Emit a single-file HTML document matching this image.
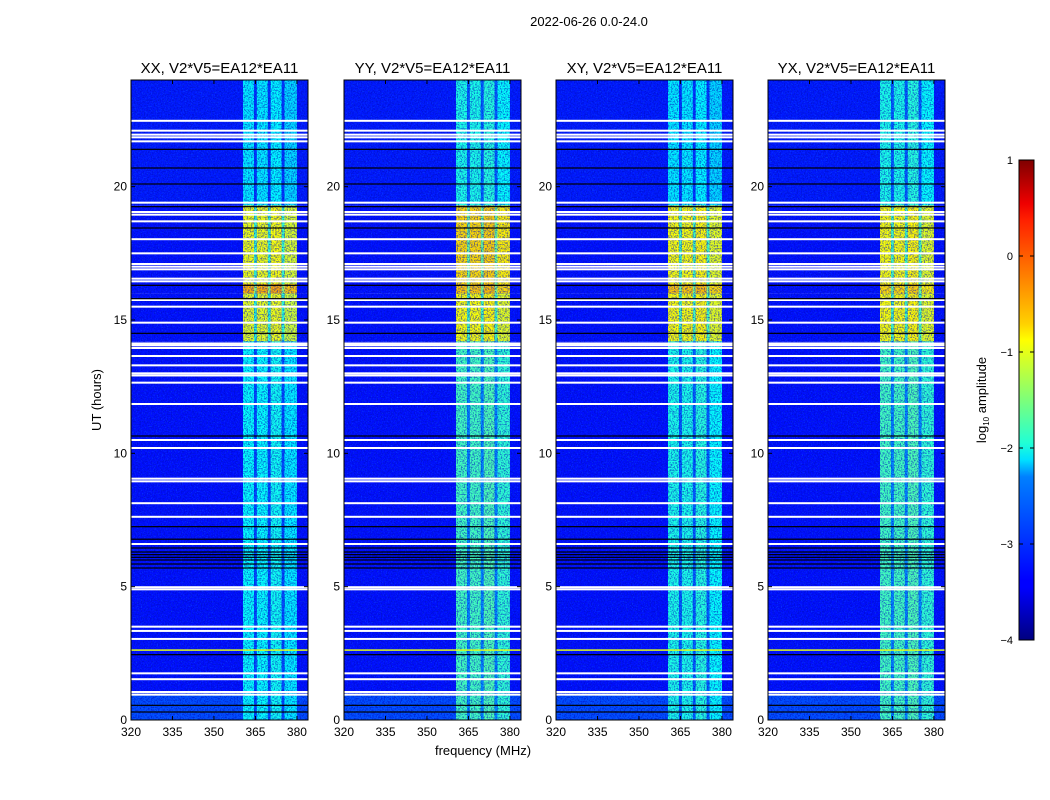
<!DOCTYPE html>
<html><head><meta charset="utf-8"><style>
html,body{margin:0;padding:0;background:#fff;}
svg{display:block;font-family:"Liberation Sans",sans-serif;}
</style></head><body>
<svg id="fig" width="1050" height="800" viewBox="0 0 1050 800">
<defs>
<filter id="speck" x="0" y="0" width="100%" height="100%" color-interpolation-filters="sRGB">
<feTurbulence type="fractalNoise" baseFrequency="0.7" numOctaves="2" seed="3"/>
<feColorMatrix type="matrix" values="0 0 0 0 0  0 0 0 0 0.05  0 0 0 0 0.75  5 0 0 0 -2.3"/>
</filter>
<filter id="speck2" x="0" y="0" width="100%" height="100%" color-interpolation-filters="sRGB">
<feTurbulence type="fractalNoise" baseFrequency="0.8" numOctaves="2" seed="11"/>
<feColorMatrix type="matrix" values="0 0 0 0 0.1  0 0 0 0 0.6  0 0 0 0 1  0 5 0 0 -2.9"/>
</filter>
<linearGradient id="jet" x1="0" y1="1" x2="0" y2="0">
<stop offset="0" stop-color="#00007f"/><stop offset="0.11" stop-color="#0000ff"/>
<stop offset="0.125" stop-color="#0000ff"/><stop offset="0.34" stop-color="#0080ff"/>
<stop offset="0.375" stop-color="#00e0ff"/><stop offset="0.41" stop-color="#20ffd6"/>
<stop offset="0.5" stop-color="#7dff7a"/><stop offset="0.625" stop-color="#ffff00"/>
<stop offset="0.66" stop-color="#ffd000"/><stop offset="0.875" stop-color="#ff2000"/>
<stop offset="0.91" stop-color="#ee0000"/><stop offset="1" stop-color="#7f0000"/>
</linearGradient>
</defs>
<text x="589" y="26" font-size="13" text-anchor="middle">2022-06-26 0.0-24.0</text>
<g id="panels"></g>
<text transform="translate(101,400) rotate(-90)" font-size="13" text-anchor="middle">UT (hours)</text>
<text x="483" y="755" font-size="13" text-anchor="middle">frequency (MHz)</text>
<g>
<rect x="1019" y="160" width="15" height="480" fill="url(#jet)" stroke="#000" stroke-width="1"/>
<g id="cbticks"></g>
<text transform="translate(986,400) rotate(-90)" font-size="13" text-anchor="middle">log<tspan font-size="8" dy="3">10</tspan><tspan dy="-3"> amplitude</tspan></text>
</g>
</svg>
<script>
// ---- data ----
const panelTitles = ["XX, V2*V5=EA12*EA11","YY, V2*V5=EA12*EA11","XY, V2*V5=EA12*EA11","YX, V2*V5=EA12*EA11"];
const panelLeft = [131, 344, 556, 768];
const xTicks = [320, 335, 350, 365, 380];
const yTicks = [0, 5, 10, 15, 20];
const cbTicks = [1, 0, -1, -2, -3, -4];
// time segments (hours)
const segStart = [0, 1, 14.2, 16.0, 16.35, 19.3];
const segEnd   = [1, 14.2, 16.0, 16.35, 19.3, 24];
const segBg    = [-3.0, -3.3, -3.3, -3.3, -3.3, -3.25];
const bandXX = [-2.1, -2.1, -1.0, -0.5, -0.95, -2.2];
const bandYY = [-1.8, -1.8, -0.9, -0.6, -0.7, -2.0];
const bandXY = [-2.0, -2.0, -0.9, -0.6, -0.9, -2.2];
const bandYX = [-1.8, -1.8, -0.9, -0.7, -0.9, -2.0];
const panelBand = [bandXX, bandYY, bandXY, bandYX];
// band columns (MHz) within the active band; gaps are darker
const colStart = [360.5, 364.5, 365.5, 369.5, 370.5, 374.5, 375.5];
const colEnd   = [364.5, 365.5, 369.5, 370.5, 374.5, 375.5, 380.0];
const colDelta = [0, -0.9, 0, -0.9, 0.05, -0.9, -0.1];
// flagged rows
const whiteRows = [0.95, 1.05, 1.53, 1.75, 3.04, 3.34, 3.5, 4.9, 4.98, 6.6, 7.62, 8.13, 8.95, 9.05, 10.2, 10.5, 11.85, 12.65, 12.92, 13.0, 13.3, 13.65, 13.95, 14.05, 14.12, 14.9, 15.5, 15.75, 16.45, 16.55, 16.9, 17.0, 17.1, 17.5, 18.03, 18.7, 18.95, 19.05, 19.4, 21.7, 21.85, 21.95, 22.1, 22.47];
const blackRows = [0.3, 0.55, 2.45, 5.7, 5.85, 6.0, 6.1, 6.2, 6.3, 6.45, 6.78, 7.25, 10.65, 14.5, 15.8, 16.3, 18.45, 19.25, 20.1, 20.7, 21.4];

// ---- helpers ----
const NS = "http://www.w3.org/2000/svg";
const yTop = 80, yBot = 720, fMin = 320, fMax = 384, W = 177;
function yScale(h){ return yBot - (h/24)*(yBot-yTop); }
function xScale(left, f){ return left + (f-fMin)/(fMax-fMin)*W; }
function jet(v){
  let t = Math.max(0, Math.min(1, (v+4)/5));
  const c = x => Math.round(255*Math.max(0, Math.min(1, x)));
  const r = c(Math.min(4*t-1.5, -4*t+4.5));
  const g = c(Math.min(4*t-0.5, -4*t+3.5));
  const b = c(Math.min(4*t+0.5, -4*t+2.5));
  return `rgb(${r},${g},${b})`;
}
function mk(tag, attrs, parent){
  const e = document.createElementNS(NS, tag);
  for (const k in attrs) e.setAttribute(k, attrs[k]);
  parent.appendChild(e); return e;
}
const panels = document.getElementById("panels");
panelLeft.forEach((left, p) => {
  const g = mk("g", {}, panels);
  
  
  const bands = panelBand[p];
  segStart.forEach((s, i) => {
    const y0 = yScale(segEnd[i]), y1 = yScale(s);
    const bg = mk("rect", {x:left, y:y0, width:W, height:y1-y0, fill:jet(segBg[i])}, g);
    
    
    colStart.forEach((c0, j) => {
      const x0 = xScale(left, c0), x1 = xScale(left, colEnd[j]);
      const r = mk("rect", {x:x0, y:y0, width:x1-x0, height:y1-y0, fill:jet(bands[i]+colDelta[j])}, g);
      
      
    });
  });
  // speckle texture
  const sp = mk("rect", {x:left, y:yTop, width:W, height:yBot-yTop, fill:"#000", filter:"url(#speck)", opacity:"0.55"}, g);
  
  
  const sp2 = mk("rect", {x:left, y:yTop, width:W, height:yBot-yTop, fill:"#000", filter:"url(#speck2)", opacity:"0.3"}, g);
  
  
  // colored RFI row near 2.62 h
  const rf = mk("rect", {x:left, y:yScale(2.65), width:W, height:1.5, fill:jet(-1.0)}, g);
  
  
  whiteRows.forEach(h => {
    const r = mk("rect", {x:left, y:yScale(h)-1, width:W, height:2, fill:"#fff"}, g);
    
    
  });
  blackRows.forEach(h => {
    const r = mk("rect", {x:left, y:yScale(h)-0.6, width:W, height:1.2, fill:"#000"}, g);
    
    
  });
  const fr = mk("rect", {x:left, y:yTop, width:W, height:yBot-yTop, fill:"none", stroke:"#000", "stroke-width":1}, g);
  
  
  const t = mk("text", {x:left+W/2, y:73, "font-size":15, "text-anchor":"middle"}, g);
  t.textContent = panelTitles[p];
  
  
  xTicks.forEach(f => {
    const x = xScale(left, f);
    mk("line", {x1:x, x2:x, y1:yBot, y2:yBot-4, stroke:"#000"}, g);
    mk("line", {x1:x, x2:x, y1:yTop, y2:yTop+4, stroke:"#000"}, g);
    const tl = mk("text", {x:x, y:736, "font-size":12, "text-anchor":"middle"}, g);
    tl.textContent = f;
    
    
  });
  yTicks.forEach(h => {
    const y = yScale(h);
    mk("line", {x1:left, x2:left+4, y1:y, y2:y, stroke:"#000"}, g);
    mk("line", {x1:left+W, x2:left+W-4, y1:y, y2:y, stroke:"#000"}, g);
    const tl = mk("text", {x:left-4, y:y+4, "font-size":12, "text-anchor":"end"}, g);
    tl.textContent = h;
    
    
  });
});
const cbg = document.getElementById("cbticks");
cbTicks.forEach(v => {
  const y = 640 - (v+4)/5*480;
  mk("line", {x1:1019, x2:1023, y1:y, y2:y, stroke:"#000"}, cbg);
  mk("line", {x1:1034, x2:1030, y1:y, y2:y, stroke:"#000"}, cbg);
  const tl = mk("text", {x:1013, y:y+4, "font-size":11, "text-anchor":"end"}, cbg);
  tl.textContent = v < 0 ? "\u2212" + (-v) : v;
  
  
});
</script>
</body></html>
